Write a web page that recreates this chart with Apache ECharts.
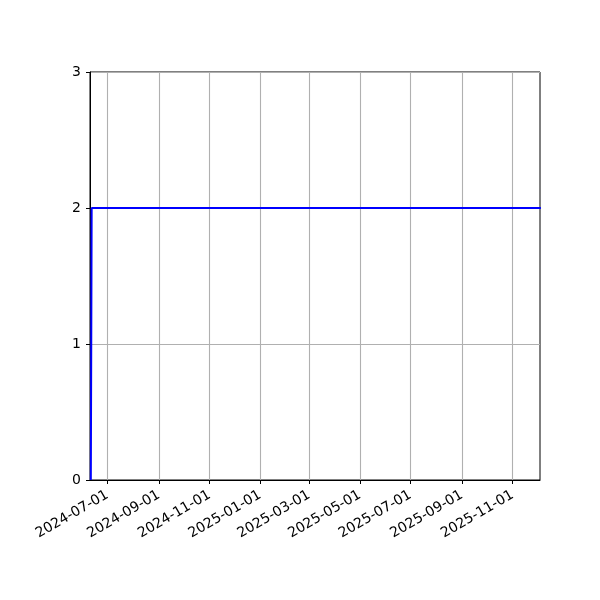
<!DOCTYPE html>
<html>
<head>
<meta charset="utf-8">
<script src="https://cdn.jsdelivr.net/npm/echarts@6/dist/echarts.min.js"></script>
<style>html,body{margin:0;padding:0;background:#fff}#c{width:600px;height:600px}</style>
</head>
<body>
<div id="c"></div>
<script>
// Data
const dates = ['2024-06-11', '2024-06-12', '2025-12-05'];
const values = [0, 2, 2];
const xTickLabels = ['2024-07-01','2024-09-01','2024-11-01','2025-01-01','2025-03-01','2025-05-01','2025-07-01','2025-09-01','2025-11-01'];
const yTicks = [0, 1, 2, 3];
const xMin = '2024-06-10';
const xMax = '2025-12-04';

const toTs = s => { const p = s.split('-').map(Number); return Date.UTC(p[0], p[1]-1, p[2]); };
const tickTs = xTickLabels.map(toTs);
const pad = n => (n < 10 ? '0' : '') + n;
const fmt = v => { const d = new Date(v); return d.getUTCFullYear() + '-' + pad(d.getUTCMonth()+1) + '-' + pad(d.getUTCDate()); };

const chart = echarts.init(document.getElementById('c'), null, {renderer: 'canvas'});
chart.setOption({
  animation: false,
  backgroundColor: '#fff',
  textStyle: {fontFamily: 'DejaVu Sans'},
  grid: {left: 90, right: 60, top: 72, bottom: 120, show: true, borderColor: '#000', borderWidth: 1, backgroundColor: 'transparent', containLabel: false},
  xAxis: {
    type: 'value',
    min: toTs(xMin), max: toTs(xMax),
    axisLine: {show: true, lineStyle: {color: '#000', width: 1}},
    axisTick: {show: true, length: 4, lineStyle: {color: '#000', width: 1}, customValues: tickTs},
    axisLabel: {show: true, rotate: 30, color: '#000', fontSize: 14, fontFamily: 'DejaVu Sans', margin: 14, customValues: tickTs, formatter: v => fmt(v)},
    splitLine: {show: false}
  },
  yAxis: {
    type: 'value', min: 0, max: 3, interval: 1,
    axisLine: {show: true, lineStyle: {color: '#000', width: 1}},
    axisTick: {show: true, length: 4, lineStyle: {color: '#000', width: 1}},
    axisLabel: {color: '#000', fontSize: 14, fontFamily: 'DejaVu Sans', margin: 9, formatter: v => yTicks.includes(v) ? String(v) : ''},
    splitLine: {show: true, lineStyle: {color: '#b0b0b0', width: 1.1}}
  },
  series: [
    {
      type: 'line', data: [], silent: true,
      markLine: {
        silent: true, symbol: 'none', animation: false,
        label: {show: false},
        lineStyle: {color: '#b0b0b0', width: 1.1, type: 'solid'},
        data: tickTs.map(t => ({xAxis: t}))
      }
    },
    {
      type: 'line',
      data: dates.map((d, i) => [toTs(d), values[i]]),
      showSymbol: false, symbol: 'none',
      lineStyle: {color: '#0000ff', width: 2},
      itemStyle: {color: '#0000ff'},
      z: 5
    }
  ]
});
</script>
</body>
</html>
